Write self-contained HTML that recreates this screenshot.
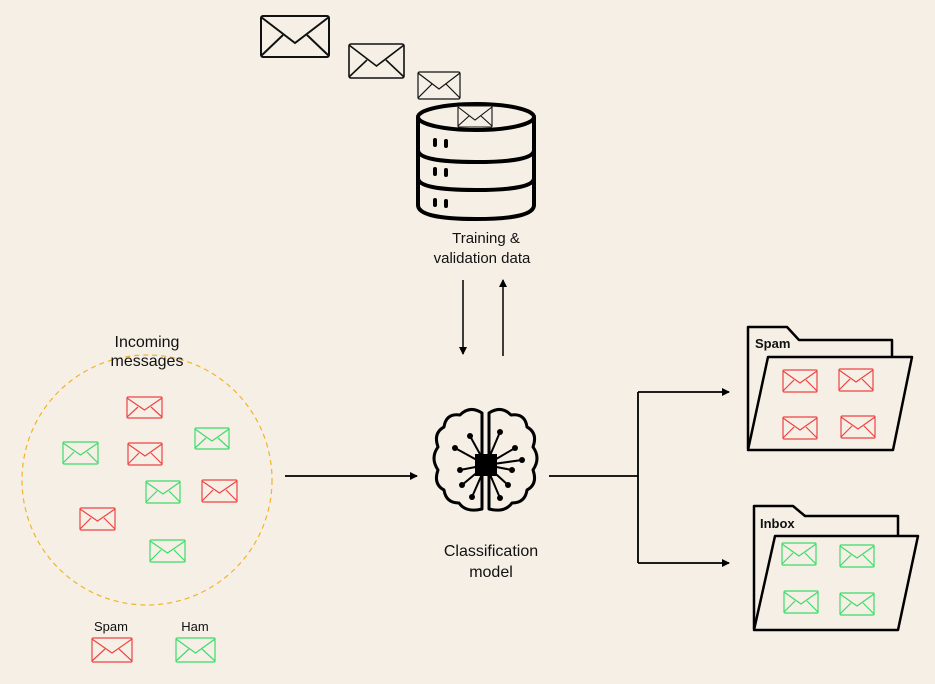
<!DOCTYPE html>
<html><head><meta charset="utf-8"><style>
html,body{margin:0;padding:0;background:#f5efe6;}
svg{display:block}
text{font-family:"Liberation Sans",sans-serif;fill:#111}
</style></head><body>
<svg width="935" height="684" viewBox="0 0 935 684" xmlns="http://www.w3.org/2000/svg">
<defs>
<marker id="ah" markerWidth="8" markerHeight="8" refX="7" refY="4" orient="auto" markerUnits="userSpaceOnUse"><path d="M0,0 L8,4 L0,8 z" fill="#000"/></marker>
</defs>
<rect width="935" height="684" fill="#f5efe6"/>
<!-- envelopes top -->
<g fill="none" stroke="#111">
<g stroke-width="2"><rect x="261" y="16" width="68" height="41" rx="2"/><polyline points="261,17 295,43 329,17"/><line x1="261" y1="56" x2="283" y2="35"/><line x1="329" y1="56" x2="307" y2="35"/></g>
<g stroke-width="1.6"><rect x="349" y="44" width="55" height="34" rx="2"/><polyline points="349,45 376.5,66 404,45"/><line x1="349" y1="77" x2="367" y2="60"/><line x1="404" y1="77" x2="386" y2="60"/></g>
<g stroke-width="1.2"><rect x="418" y="72" width="42" height="27" rx="1.5"/><polyline points="418,73 439,89 460,73"/><line x1="418" y1="98" x2="432" y2="84"/><line x1="460" y1="98" x2="446" y2="84"/></g>
</g>
<!-- database -->
<g fill="none" stroke="#000" stroke-width="4">
<ellipse cx="476" cy="117" rx="58" ry="13"/>
<path d="M418,117 V205 Q418,219 476,219 Q534,219 534,205 V117"/>
<path d="M418,150 Q418,162 476,162 Q534,162 534,150"/>
<path d="M418,178 Q418,190 476,190 Q534,190 534,178"/>
</g>
<g stroke="#000" stroke-width="4" stroke-linecap="round">
<line x1="435" y1="140" x2="435" y2="145"/><line x1="446" y1="141" x2="446" y2="146"/>
<line x1="435" y1="169" x2="435" y2="174"/><line x1="446" y1="170" x2="446" y2="175"/>
<line x1="435" y1="200" x2="435" y2="205"/><line x1="446" y1="201" x2="446" y2="206"/>
</g>
<g fill="none" stroke="#111" stroke-width="1.1"><rect x="458" y="106" width="34" height="21" rx="1"/><polyline points="458,107 475,120 492,107"/><line x1="458" y1="126" x2="469" y2="116"/><line x1="492" y1="126" x2="481" y2="116"/></g>
<text x="486" y="243" font-size="15" text-anchor="middle">Training &amp;</text>
<text x="482" y="263" font-size="15" text-anchor="middle">validation data</text>
<!-- vertical arrows -->
<line x1="463" y1="280" x2="463" y2="354" stroke="#000" stroke-width="1.5" marker-end="url(#ah)"/>
<line x1="503" y1="356" x2="503" y2="280" stroke="#000" stroke-width="1.5" marker-end="url(#ah)"/>
<!-- incoming circle -->
<circle cx="147" cy="480" r="125" fill="none" stroke="#f0b429" stroke-width="1.2" stroke-dasharray="5,4"/>
<text x="147" y="347" font-size="16" text-anchor="middle">Incoming</text>
<text x="147" y="366" font-size="16" text-anchor="middle">messages</text>
<g fill="none" stroke-width="1.2">
<g stroke="#ee4444">
<g transform="translate(127,397)"><rect width="35" height="21" rx="1"/><polyline points="0,1 17.5,13 35,1"/><line x1="0" y1="20" x2="11" y2="10"/><line x1="35" y1="20" x2="24" y2="10"/></g>
<g transform="translate(128,443)"><rect width="34" height="22" rx="1"/><polyline points="0,1 17,13 34,1"/><line x1="0" y1="21" x2="11" y2="10"/><line x1="34" y1="21" x2="23" y2="10"/></g>
<g transform="translate(202,480)"><rect width="35" height="22" rx="1"/><polyline points="0,1 17.5,13 35,1"/><line x1="0" y1="21" x2="11" y2="10"/><line x1="35" y1="21" x2="24" y2="10"/></g>
<g transform="translate(80,508)"><rect width="35" height="22" rx="1"/><polyline points="0,1 17.5,13 35,1"/><line x1="0" y1="21" x2="11" y2="10"/><line x1="35" y1="21" x2="24" y2="10"/></g>
<g transform="translate(92,638)"><rect width="40" height="24" rx="1"/><polyline points="0,1 20,15 40,1"/><line x1="0" y1="23" x2="13" y2="11"/><line x1="40" y1="23" x2="27" y2="11"/></g>
</g>
<g stroke="#3ddc6a">
<g transform="translate(63,442)"><rect width="35" height="22" rx="1"/><polyline points="0,1 17.5,13 35,1"/><line x1="0" y1="21" x2="11" y2="10"/><line x1="35" y1="21" x2="24" y2="10"/></g>
<g transform="translate(195,428)"><rect width="34" height="21" rx="1"/><polyline points="0,1 17,13 34,1"/><line x1="0" y1="20" x2="11" y2="10"/><line x1="34" y1="20" x2="23" y2="10"/></g>
<g transform="translate(146,481)"><rect width="34" height="22" rx="1"/><polyline points="0,1 17,13 34,1"/><line x1="0" y1="21" x2="11" y2="10"/><line x1="34" y1="21" x2="23" y2="10"/></g>
<g transform="translate(150,540)"><rect width="35" height="22" rx="1"/><polyline points="0,1 17.5,13 35,1"/><line x1="0" y1="21" x2="11" y2="10"/><line x1="35" y1="21" x2="24" y2="10"/></g>
<g transform="translate(176,638)"><rect width="39" height="24" rx="1"/><polyline points="0,1 19.5,15 39,1"/><line x1="0" y1="23" x2="13" y2="11"/><line x1="39" y1="23" x2="26" y2="11"/></g>
</g>
</g>
<text x="111" y="631" font-size="13" text-anchor="middle">Spam</text>
<text x="195" y="631" font-size="13" text-anchor="middle">Ham</text>
<!-- input arrow -->
<line x1="285" y1="476" x2="417" y2="476" stroke="#000" stroke-width="1.8" marker-end="url(#ah)"/>
<!-- brain -->
<g fill="none" stroke="#000" stroke-width="3" stroke-linejoin="round">
<path d="M482,413 Q470,405 460,415 Q446,413 444,427 Q433,433 438,447 Q430,458 438,470 Q433,484 444,490 Q446,503 459,503 Q466,513 482,509 Z"/>
<path d="M489,413 Q501,405 511,415 Q525,413 527,427 Q538,433 533,447 Q541,458 533,470 Q538,484 527,490 Q525,503 512,503 Q505,513 489,509 Z"/>
</g>
<g stroke="#000" stroke-width="2" fill="none">
<path d="M486,465 L455,448 M486,465 L460,470 M486,465 L462,485 M486,465 L470,436 M486,465 L472,497 M486,465 L515,448 M486,465 L512,470 M486,465 L508,485 M486,465 L500,432 M486,465 L500,498 M486,465 L522,460"/>
</g>
<g fill="#000">
<rect x="475" y="454" width="22" height="22"/>
<circle cx="455" cy="448" r="3"/><circle cx="460" cy="470" r="3"/><circle cx="462" cy="485" r="3"/><circle cx="470" cy="436" r="3"/><circle cx="472" cy="497" r="3"/>
<circle cx="515" cy="448" r="3"/><circle cx="512" cy="470" r="3"/><circle cx="508" cy="485" r="3"/><circle cx="500" cy="432" r="3"/><circle cx="500" cy="498" r="3"/><circle cx="522" cy="460" r="3"/>
</g>
<text x="491" y="556" font-size="16" text-anchor="middle">Classification</text>
<text x="491" y="577" font-size="16" text-anchor="middle">model</text>
<!-- output connectors -->
<g stroke="#000" stroke-width="1.8" fill="none">
<line x1="549" y1="476" x2="638" y2="476"/>
<line x1="638" y1="392" x2="638" y2="563"/>
<line x1="638" y1="392" x2="729" y2="392" marker-end="url(#ah)"/>
<line x1="638" y1="563" x2="729" y2="563" marker-end="url(#ah)"/>
</g>
<!-- spam folder -->
<g fill="#f5efe6" stroke="#000" stroke-width="2.5" stroke-linejoin="round">
<path d="M748,449 V327 H787 L799,340 H892 V357"/>
<path d="M768,357 H912 L893,450 H748 Z"/>
</g>
<text x="755" y="348" font-size="13" font-weight="bold">Spam</text>
<!-- inbox folder -->
<g fill="#f5efe6" stroke="#000" stroke-width="2.5" stroke-linejoin="round">
<path d="M754,629 V506 H793 L805,516 H898 V536"/>
<path d="M775,536 H918 L898,630 H754 Z"/>
</g>
<text x="760" y="528" font-size="13" font-weight="bold">Inbox</text>
<g fill="none" stroke-width="1.2">
<g stroke="#ee4444">
<g transform="translate(783,370)"><rect width="34" height="22" rx="1"/><polyline points="0,1 17,13 34,1"/><line x1="0" y1="21" x2="11" y2="10"/><line x1="34" y1="21" x2="23" y2="10"/></g>
<g transform="translate(839,369)"><rect width="34" height="22" rx="1"/><polyline points="0,1 17,13 34,1"/><line x1="0" y1="21" x2="11" y2="10"/><line x1="34" y1="21" x2="23" y2="10"/></g>
<g transform="translate(783,417)"><rect width="34" height="22" rx="1"/><polyline points="0,1 17,13 34,1"/><line x1="0" y1="21" x2="11" y2="10"/><line x1="34" y1="21" x2="23" y2="10"/></g>
<g transform="translate(841,416)"><rect width="34" height="22" rx="1"/><polyline points="0,1 17,13 34,1"/><line x1="0" y1="21" x2="11" y2="10"/><line x1="34" y1="21" x2="23" y2="10"/></g>
</g>
<g stroke="#3ddc6a">
<g transform="translate(782,543)"><rect width="34" height="22" rx="1"/><polyline points="0,1 17,13 34,1"/><line x1="0" y1="21" x2="11" y2="10"/><line x1="34" y1="21" x2="23" y2="10"/></g>
<g transform="translate(840,545)"><rect width="34" height="22" rx="1"/><polyline points="0,1 17,13 34,1"/><line x1="0" y1="21" x2="11" y2="10"/><line x1="34" y1="21" x2="23" y2="10"/></g>
<g transform="translate(784,591)"><rect width="34" height="22" rx="1"/><polyline points="0,1 17,13 34,1"/><line x1="0" y1="21" x2="11" y2="10"/><line x1="34" y1="21" x2="23" y2="10"/></g>
<g transform="translate(840,593)"><rect width="34" height="22" rx="1"/><polyline points="0,1 17,13 34,1"/><line x1="0" y1="21" x2="11" y2="10"/><line x1="34" y1="21" x2="23" y2="10"/></g>
</g>
</g>
</svg>
</body></html>
